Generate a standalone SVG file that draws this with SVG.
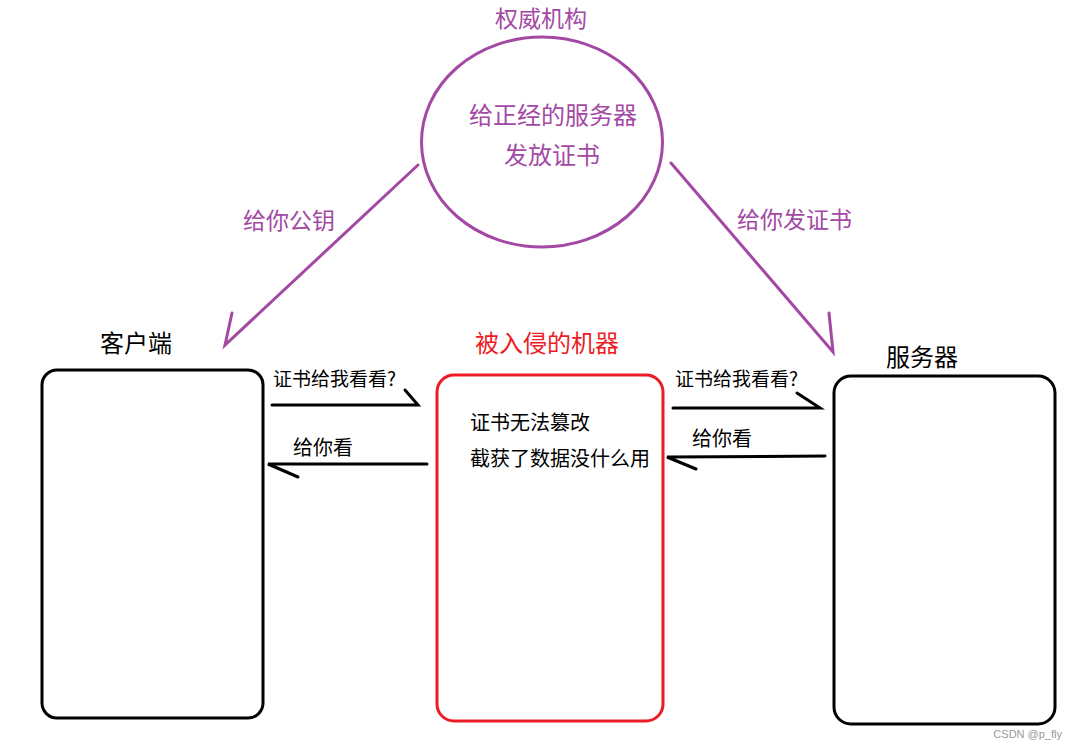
<svg xmlns="http://www.w3.org/2000/svg" width="1078" height="749" viewBox="0 0 1078 749">
<style>
text{font-family:"Noto Sans CJK SC","Liberation Sans",sans-serif;}
.p{fill:#a349a4;font-size:23px;}
.b{fill:#000;font-size:24px;}
.s{fill:#000;font-size:19px;}
.m{fill:#000;font-size:20px;}
.pl{fill:none;stroke:#a349a4;stroke-width:3;stroke-linecap:round;}
.bl{fill:none;stroke:#000;stroke-width:3;stroke-linecap:round;}
.box{fill:#fff;stroke:#000;stroke-width:3;}
</style>
<rect width="1078" height="749" fill="#fff"/>
<g id="authority">
<ellipse cx="542" cy="142" rx="120.5" ry="105" fill="none" stroke="#a349a4" stroke-width="3"/>
<text class="p" x="541" y="27" text-anchor="middle">权威机构</text>
<text class="p" x="553" y="124" text-anchor="middle" style="font-size:24px">给正经的服务器</text>
<text class="p" x="552" y="164" text-anchor="middle" style="font-size:24px">发放证书</text>
</g>
<g id="client">
<rect class="box" x="42" y="370" width="221" height="348" rx="15"/>
<text class="b" x="136" y="352" text-anchor="middle">客户端</text>
</g>
<g id="intruder">
<rect x="437" y="375" width="226" height="346" rx="17" fill="#fff" stroke="#ed1c24" stroke-width="3"/>
<text class="b" x="547" y="352" text-anchor="middle" fill="#ed1c24" style="fill:#ed1c24">被入侵的机器</text>
<text class="m" x="470" y="430">证书无法篡改</text>
<text class="m" x="470" y="466">截获了数据没什么用</text>
</g>
<g id="server">
<rect class="box" x="834" y="376" width="221" height="348" rx="17"/>
<text class="b" x="922" y="366" text-anchor="middle">服务器</text>
</g>
<g id="connectors">
<path class="pl" d="M418 165 L225 345 L232 313"/>
<path class="pl" d="M671 163 L833 352 L829 313"/>
<path class="bl" d="M272 405 L418 405 L405 390"/>
<path class="bl" d="M427 464 L268 464 L298 477"/>
<path class="bl" d="M673 408 L820 408 L797 393"/>
<path class="bl" d="M825 456 L667 457 L696 469"/>
<text class="p" x="243" y="229">给你公钥</text>
<text class="p" x="737" y="228">给你发证书</text>
<text class="s" x="273" y="386">证书给我看看?</text>
<text class="m" x="293" y="455">给你看</text>
<text class="s" x="675" y="386">证书给我看看?</text>
<text class="m" x="692" y="446">给你看</text>
</g>
<text x="1062" y="738" text-anchor="end" fill="#999" font-size="11" style="font-family:'Liberation Sans',sans-serif">CSDN @p_fly</text>
</svg>
